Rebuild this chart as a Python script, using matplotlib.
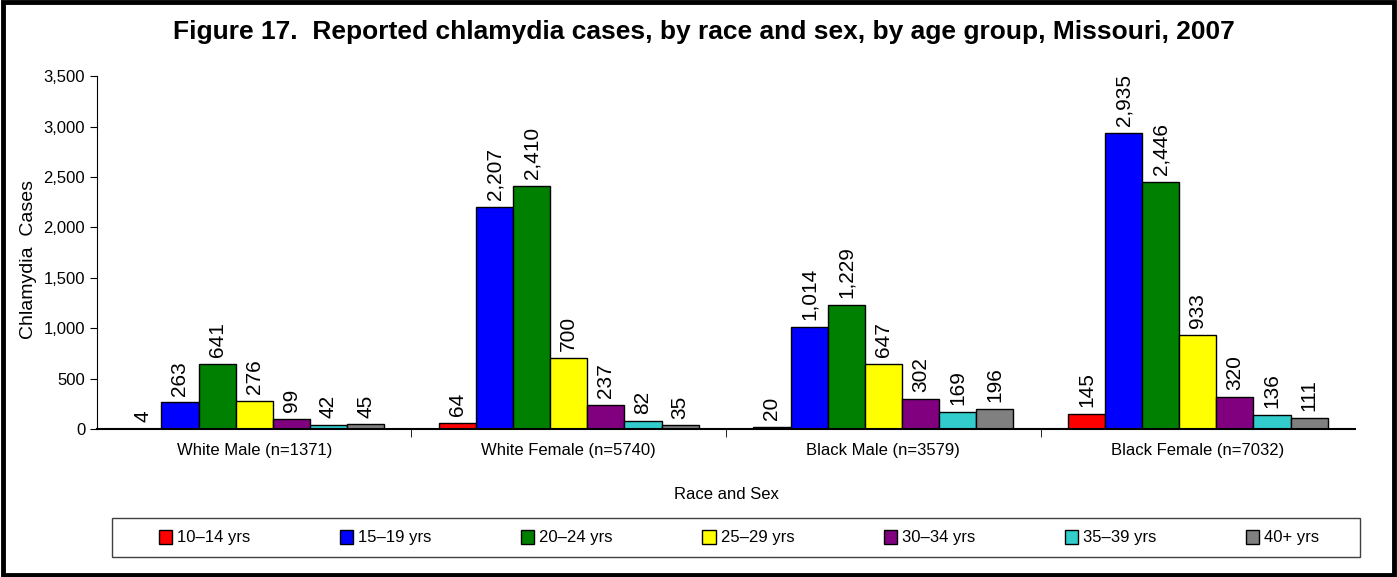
import matplotlib
matplotlib.use("Agg")
import matplotlib.pyplot as plt
import matplotlib.patches as patches
import numpy as np

plt.rcParams["font.family"] = ["Liberation Sans", "DejaVu Sans"]

# 데이터
groups = ["White Male (n=1371)", "White Female (n=5740)",
          "Black Male (n=3579)", "Black Female (n=7032)"]
age_groups = ["10\u201314 yrs", "15\u201319 yrs", "20\u201324 yrs", "25\u201329 yrs",
              "30\u201334 yrs", "35\u201339 yrs", "40+ yrs"]
cases_10_14 = [4, 64, 20, 145]
cases_15_19 = [263, 2207, 1014, 2935]
cases_20_24 = [641, 2410, 1229, 2446]
cases_25_29 = [276, 700, 647, 933]
cases_30_34 = [99, 237, 302, 320]
cases_35_39 = [42, 82, 169, 136]
cases_40_up = [45, 35, 196, 111]
colors = ["#FF0000", "#0000FF", "#008000", "#FFFF00", "#800080", "#33CCCC", "#808080"]

def main():
    series = [cases_10_14, cases_15_19, cases_20_24, cases_25_29,
              cases_30_34, cases_35_39, cases_40_up]
    W, H = 1397, 577
    fig = plt.figure(figsize=(W / 100, H / 100), dpi=100)
    ax = fig.add_axes([0.0694, 0.2565, 0.9006, 0.6115])

    x = np.arange(len(groups))
    w = 0.118
    for i, (vals, c, lab) in enumerate(zip(series, colors, age_groups)):
        off = (i - 3) * w
        bars = ax.bar(x + off, vals, w, color=c, edgecolor="black", linewidth=1, label=lab)
        ax.bar_label(bars, labels=[f"{v:,}" for v in vals], rotation=90,
                     padding=5, fontsize=15)

    ax.set_xlim(-0.5, 3.5)
    ax.set_ylim(0, 3500)
    ax.set_yticks(np.arange(0, 3501, 500))
    ax.yaxis.set_major_formatter(matplotlib.ticker.FuncFormatter(lambda v, p: f"{int(v):,}"))
    ax.set_xticks(x)
    ax.set_xticklabels(groups, fontsize=12)
    ax.set_xticks([0.5, 1.5, 2.5], minor=True)
    ax.tick_params(axis="x", which="major", length=0, pad=10)
    ax.tick_params(axis="x", which="minor", length=6, direction="out")
    ax.tick_params(axis="y", length=5, direction="out", labelsize=12)
    ax.spines["top"].set_visible(False)
    ax.spines["right"].set_visible(False)
    ax.spines["bottom"].set_linewidth(1.5)

    # 축 라벨
    ax.set_ylabel("Chlamydia  Cases", fontsize=14)
    ax.yaxis.set_label_coords(-0.048, 0.479)
    ax.set_xlabel("Race and Sex", fontsize=12)
    ax.xaxis.set_label_coords(0.5, -(495 - 429) / 353, transform=ax.transAxes)
    ax.xaxis.label.set_va("center")
    fig.text(0.504, 1 - 32 / H,
             "Figure 17.  Reported chlamydia cases, by race and sex, by age group, Missouri, 2007",
             ha="center", va="center", fontsize=19, fontweight="bold")

    # 범례
    fig.legend(loc="center", ncol=7, mode="expand",
               bbox_to_anchor=(152 / W, 1 - 557 / H, 1174 / W, 39 / H),
               fontsize=12, frameon=False,
               handlelength=0.8, handleheight=0.9, handletextpad=0.3,
               borderaxespad=0)
    fig.patches.append(patches.Rectangle((112 / W, 1 - 557 / H), 1248 / W, 39 / H,
                                         transform=fig.transFigure, fill=False,
                                         edgecolor="#404040", linewidth=1))

    # 테두리
    fig.patches.append(patches.Rectangle((0.002, 0.003), 0.996, 0.994, transform=fig.transFigure,
                                         fill=False, edgecolor="black", linewidth=3.5))
    fig.savefig("out.png", dpi=100)

if __name__ == "__main__":
    main()
